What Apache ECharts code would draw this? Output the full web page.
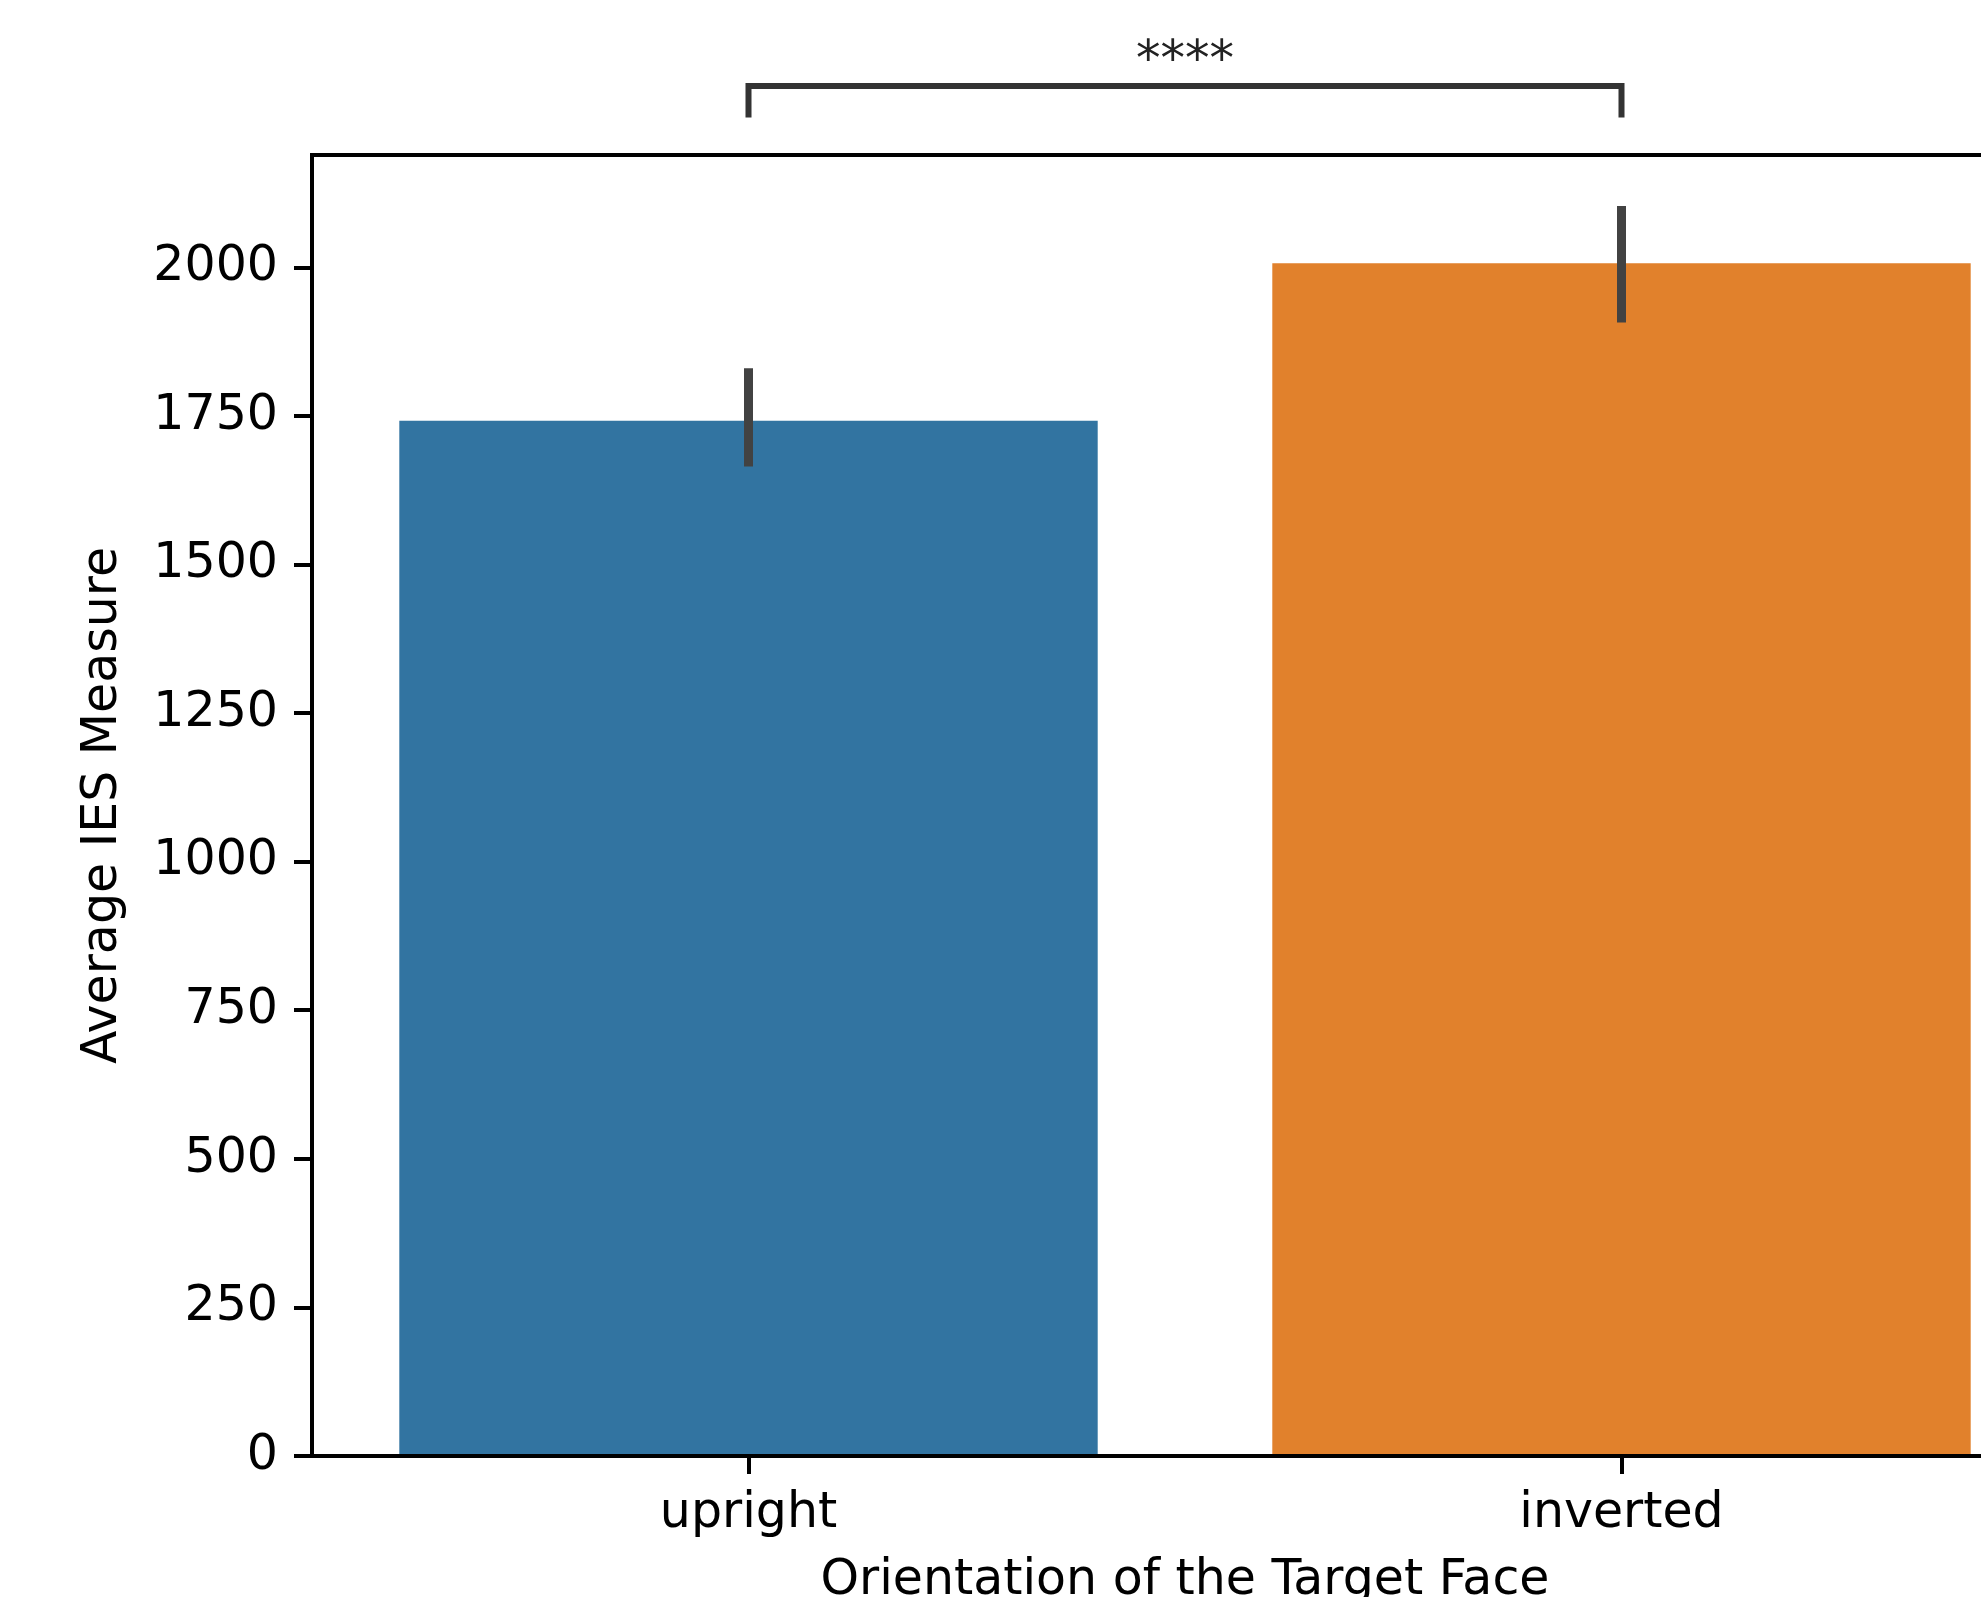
<!DOCTYPE html>
<html>
<head>
<meta charset="utf-8">
<script src="https://cdn.jsdelivr.net/npm/echarts@6/dist/echarts.min.js"></script>
<style>
  html, body { margin: 0; padding: 0; background: #ffffff; }
  #chart { width: 1981px; height: 1597px; }
</style>
</head>
<body>
<div id="chart"></div>
<script>
// ---- data ----
const categories = ['upright', 'inverted'];
const meanIES = [1742, 2007];
const ciLow = [1665, 1907];
const ciHigh = [1830, 2103];
const barColors = ['#3274A1', '#E1812C'];
const yTicks = [0, 250, 500, 750, 1000, 1250, 1500, 1750, 2000];
const yMax = 2189;
// significance annotation (data units)
const bracketPair = [0, 1];
const bracketLevels = [2252, 2305, 2345]; // leg bottom, bar, label
const bracketLabel = '****';

const FONT = '"DejaVu Sans", "Liberation Sans", sans-serif';
const FS = 49;

const chart = echarts.init(document.getElementById('chart'), null, { renderer: 'canvas' });

const option = {
  backgroundColor: '#ffffff',
  animation: false,
  grid: {
    left: 312, top: 155, width: 1746, height: 1301,
    outerBoundsMode: 'none',
    containLabel: false,
    show: true, borderColor: '#000000', borderWidth: 4, backgroundColor: 'transparent'
  },
  xAxis: {
    type: 'category',
    data: categories,
    z: 5,
    boundaryGap: true,
    axisLine: { show: true, lineStyle: { color: '#000000', width: 4 } },
    axisTick: { show: true, alignWithLabel: true, length: 18, lineStyle: { color: '#000000', width: 4 } },
    axisLabel: { color: '#000000', fontSize: FS, fontFamily: FONT, margin: 34 },
    splitLine: { show: false },
    name: 'Orientation of the Target Face',
    nameLocation: 'middle',
    nameGap: 101,
    nameTextStyle: { color: '#000000', fontSize: FS, fontFamily: FONT }
  },
  yAxis: {
    type: 'value',
    min: 0,
    max: yMax,
    interval: 250,
    z: 5,
    axisLine: { show: true, lineStyle: { color: '#000000', width: 4 } },
    axisTick: { show: true, length: 18, customValues: yTicks, lineStyle: { color: '#000000', width: 4 } },
    axisLabel: {
      color: '#000000', fontSize: FS, fontFamily: FONT, margin: 34, customValues: yTicks,
      padding: [8, 0, 0, 0],
      formatter: function (v) { return String(v); }
    },
    splitLine: { show: false },
    name: 'Average IES Measure',
    nameLocation: 'middle',
    nameGap: 184,
    nameTextStyle: { color: '#000000', fontSize: FS, fontFamily: FONT }
  },
  series: [
    {
      type: 'bar',
      barWidth: '80%',
      z: 2,
      data: meanIES.map((v, i) => ({ value: v, itemStyle: { color: barColors[i] } }))
    },
    {
      type: 'custom',
      z: 3,
      clip: false,
      data: categories.map((c, i) => [i, ciLow[i], ciHigh[i]]),
      renderItem: function (params, api) {
        const p1 = api.coord([api.value(0), api.value(1)]);
        const p2 = api.coord([api.value(0), api.value(2)]);
        return {
          type: 'line',
          shape: { x1: p1[0], y1: p1[1], x2: p2[0], y2: p2[1] },
          style: { stroke: '#424242', lineWidth: 9, lineCap: 'butt' }
        };
      }
    },
    {
      type: 'custom',
      z: 4,
      clip: false,
      data: [[bracketPair[0], bracketPair[1], bracketLevels[0], bracketLevels[1], bracketLevels[2]]],
      renderItem: function (params, api) {
        const a0 = api.coord([api.value(0), api.value(2)]);
        const a1 = api.coord([api.value(0), api.value(3)]);
        const b1 = api.coord([api.value(1), api.value(3)]);
        const b0 = api.coord([api.value(1), api.value(2)]);
        const t = api.coord([(api.value(0) + api.value(1)) / 2, api.value(4)]);
        const tx = (a1[0] + b1[0]) / 2;
        return {
          type: 'group',
          children: [
            {
              type: 'polyline',
              shape: { points: [a0, a1, b1, b0] },
              style: { stroke: '#333333', lineWidth: 6, fill: null, lineJoin: 'miter' }
            },
            {
              type: 'text',
              x: tx, y: t[1],
              style: {
                text: bracketLabel, fill: '#222222',
                fontSize: FS, fontFamily: FONT,
                align: 'center', verticalAlign: 'middle'
              }
            }
          ]
        };
      }
    }
  ]
};

chart.setOption(option);
</script>
</body>
</html>
